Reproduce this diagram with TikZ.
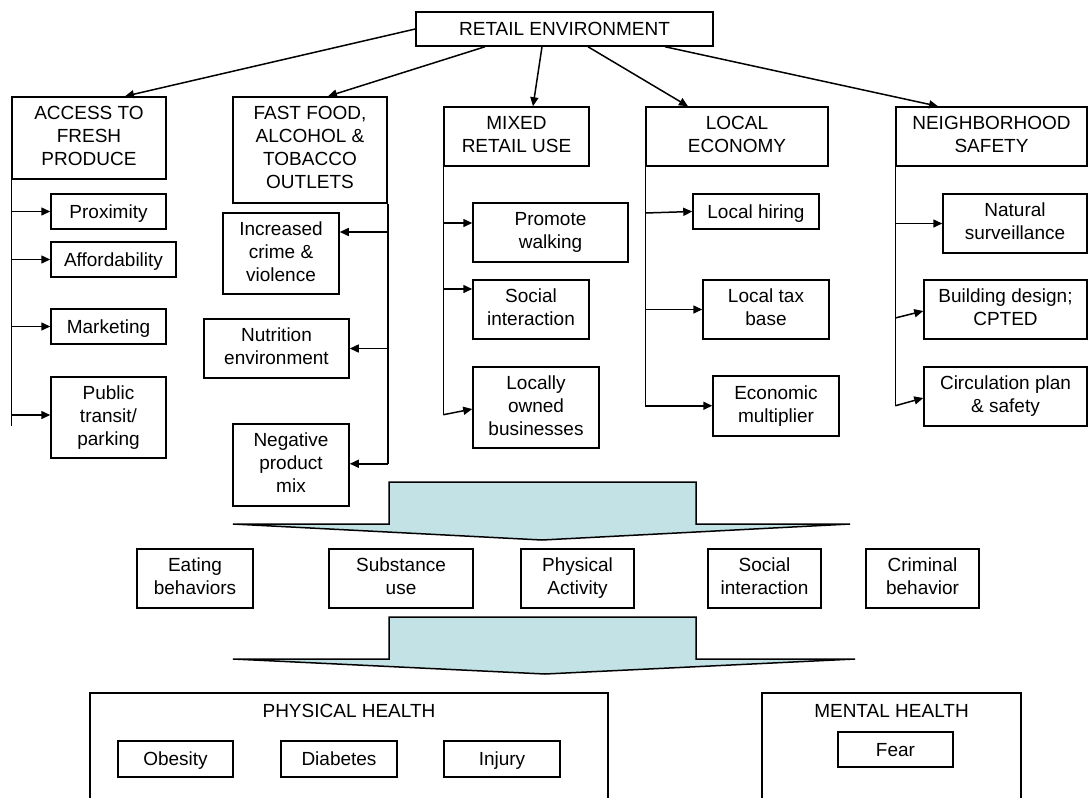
\documentclass[tikz,border=0pt]{standalone}
\usepackage{fontspec}
\setmainfont{Liberation Sans}
\usetikzlibrary{arrows.meta}

\definecolor{flowblue}{RGB}{194,226,230}
\newcommand\boxstrut{\rule[-4.7pt]{0pt}{23pt}}

\begin{document}
\begin{tikzpicture}[
    x=1pt, y=-1pt,
    every node/.style={font={\fontsize{19}{23}\selectfont},
        execute at begin node=\boxstrut, execute at end node=\boxstrut},
    box/.style={draw, line width=1.5pt, align=center, inner sep=1pt},
    arr/.style={-{Triangle[length=9pt,width=8pt]}, line width=1.5pt},
    trunk/.style={line width=1.5pt},
    flow/.style={fill=flowblue, draw, line width=1.5pt, line join=miter},
    ]
    \useasboundingbox (0,0) rectangle (1089,798);

    % Root
    \node[box, minimum width=297, minimum height=34] (ret) at (564.5,29) {RETAIL ENVIRONMENT};

    % Main branches
    \node[box, minimum width=154, minimum height=82] (access) at (89,138) {ACCESS TO\\FRESH\\PRODUCE};
    \node[box, minimum width=154, minimum height=106] (fast) at (310,150) {FAST FOOD,\\ALCOHOL \&\\TOBACCO\\OUTLETS};
    \node[box, minimum width=145, minimum height=59] (mixed) at (516.5,136.5) {MIXED\\RETAIL USE};
    \node[box, minimum width=182, minimum height=59] (econ) at (737,136.5) {LOCAL\\ECONOMY};
    \node[box, minimum width=191, minimum height=59] (safety) at (991.5,136.5) {NEIGHBORHOOD\\SAFETY};

    \draw[arr] (ret.west) -- ([xshift=36]access.north);
    \draw[arr] ([xshift=-79.5]ret.south) -- ([xshift=18]fast.north);
    \draw[arr] ([xshift=-22.5]ret.south) -- ([xshift=16.5]mixed.north);
    \draw[arr] ([xshift=23.5]ret.south) -- ([xshift=-49]econ.north);
    \draw[arr] ([xshift=100.5]ret.south) -- ([xshift=-53.5]safety.north);

    % Access to fresh produce
    \node[box, minimum width=115, minimum height=35] (prox) at (108.5,211.5) {Proximity};
    \node[box, minimum width=125, minimum height=35] (afford) at (113.5,259.5) {Affordability};
    \node[box, minimum width=115, minimum height=35] (market) at (108.5,326.5) {Marketing};
    \node[box, minimum width=115, minimum height=81] (transit) at (108.5,417.5) {Public\\transit/\\parking};

    \draw[trunk] (access.south west) -- ++(0,246);
    \draw[arr] (access.south west |- prox.west) -- (prox.west);
    \draw[arr] (access.south west |- afford.west) -- (afford.west);
    \draw[arr] (access.south west |- market.west) -- (market.west);
    \draw[arr] (access.south west |- 0,415) -- (transit.west |- 0,415);

    % Fast food, alcohol & tobacco
    \node[box, minimum width=116, minimum height=81] (crime) at (281,253.5) {Increased\\crime \&\\violence};
    \node[box, minimum width=145, minimum height=59] (nutri) at (276.5,348.5) {Nutrition\\environment};
    \node[box, minimum width=116, minimum height=82] (negmix) at (291,465) {Negative\\product\\mix};

    \draw[trunk] (fast.south east) -- ++(0,260) coordinate (fastend);
    \draw[arr] (fast.south east |- 0,232) -- (crime.east |- 0,232);
    \draw[arr] (fast.south east |- nutri.east) -- (nutri.east);
    \draw[arr] (fastend) -- (negmix.east |- fastend);

    % Mixed retail use
    \node[box, minimum width=155, minimum height=59] (walk) at (550.5,232.5) {Promote\\walking};
    \node[box, minimum width=116, minimum height=59] (social) at (531,309.5) {Social\\interaction};
    \node[box, minimum width=126, minimum height=81] (owned) at (536,407.5) {Locally\\owned\\businesses};

    \draw[trunk] (mixed.south west) -- ++(0,248) coordinate (mixend);
    \draw[arr] (mixed.south west |- 0,223) -- (walk.west |- 0,223);
    \draw[arr] (mixed.south west |- 0,289) -- (social.west |- 0,289);
    \draw[arr] (mixend) -- ([yshift=-1.5]owned.west);

    % Local economy
    \node[box, minimum width=126, minimum height=35] (hiring) at (756,211.5) {Local hiring};
    \node[box, minimum width=126, minimum height=59] (tax) at (766,309.5) {Local tax\\base};
    \node[box, minimum width=126, minimum height=60] (multi) at (776,406) {Economic\\multiplier};

    \draw[trunk] (econ.south west) -- ++(0,239) coordinate (econend);
    \draw[arr] (econ.south west |- 0,213) -- (hiring.west);
    \draw[arr] (econ.south west |- tax.west) -- (tax.west);
    \draw[arr] (econend) -- (multi.west |- econend);

    % Neighborhood safety
    \node[box, minimum width=144, minimum height=59] (surv) at (1015,223.5) {Natural\\surveillance};
    \node[box, minimum width=163, minimum height=59] (design) at (1005.5,309.5) {Building design;\\CPTED};
    \node[box, minimum width=163, minimum height=59] (circ) at (1005.5,396.5) {Circulation plan\\\& safety};

    \draw[trunk] (safety.south west) -- ++(0,239) coordinate (safend);
    \draw[arr] (safety.south west |- surv.west) -- (surv.west);
    \draw[arr] (safety.south west |- 0,318) -- ([yshift=-1.5]design.west);
    \draw[arr] (safend) -- ([yshift=-1.5]circ.west);

    % First block arrow
    \draw[flow] (389,482) -- (696,482) -- (696,524) -- (850,524) -- (542,540)
        -- (233,524) -- (389,524) -- cycle;

    % Behaviors
    \node[box, minimum width=116, minimum height=59] (eat) at (195,578.5) {Eating\\behaviors};
    \node[box, minimum width=144, minimum height=59] (subst) at (401,578.5) {Substance\\use};
    \node[box, minimum width=113, minimum height=59] (phys) at (577.5,578.5) {Physical\\Activity};
    \node[box, minimum width=113, minimum height=59] (sint) at (764.5,578.5) {Social\\interaction};
    \node[box, minimum width=113, minimum height=59] (crim) at (922.5,578.5) {Criminal\\behavior};

    % Second block arrow
    \draw[flow] (389,617) -- (696,617) -- (696,659) -- (855,659) -- (545,674)
        -- (233,659) -- (389,659) -- cycle;

    % Health outcomes
    \draw[trunk] (90,798) -- (90,693) -- (608,693) -- (608,798);
    \draw[trunk] (762,798) -- (762,693) -- (1021,693) -- (1021,798);
    \node (phtitle) at (349,711) {PHYSICAL HEALTH};
    \node (mhtitle) at (891.5,711) {MENTAL HEALTH};

    \node[box, minimum width=115, minimum height=36] (obes) at (175.5,759) {Obesity};
    \node[box, minimum width=116, minimum height=36] (diab) at (339,759) {Diabetes};
    \node[box, minimum width=116, minimum height=36] (injury) at (502,759) {Injury};
    \node[box, minimum width=115, minimum height=35] (fear) at (895.5,749.5) {Fear};

\end{tikzpicture}
\end{document}
